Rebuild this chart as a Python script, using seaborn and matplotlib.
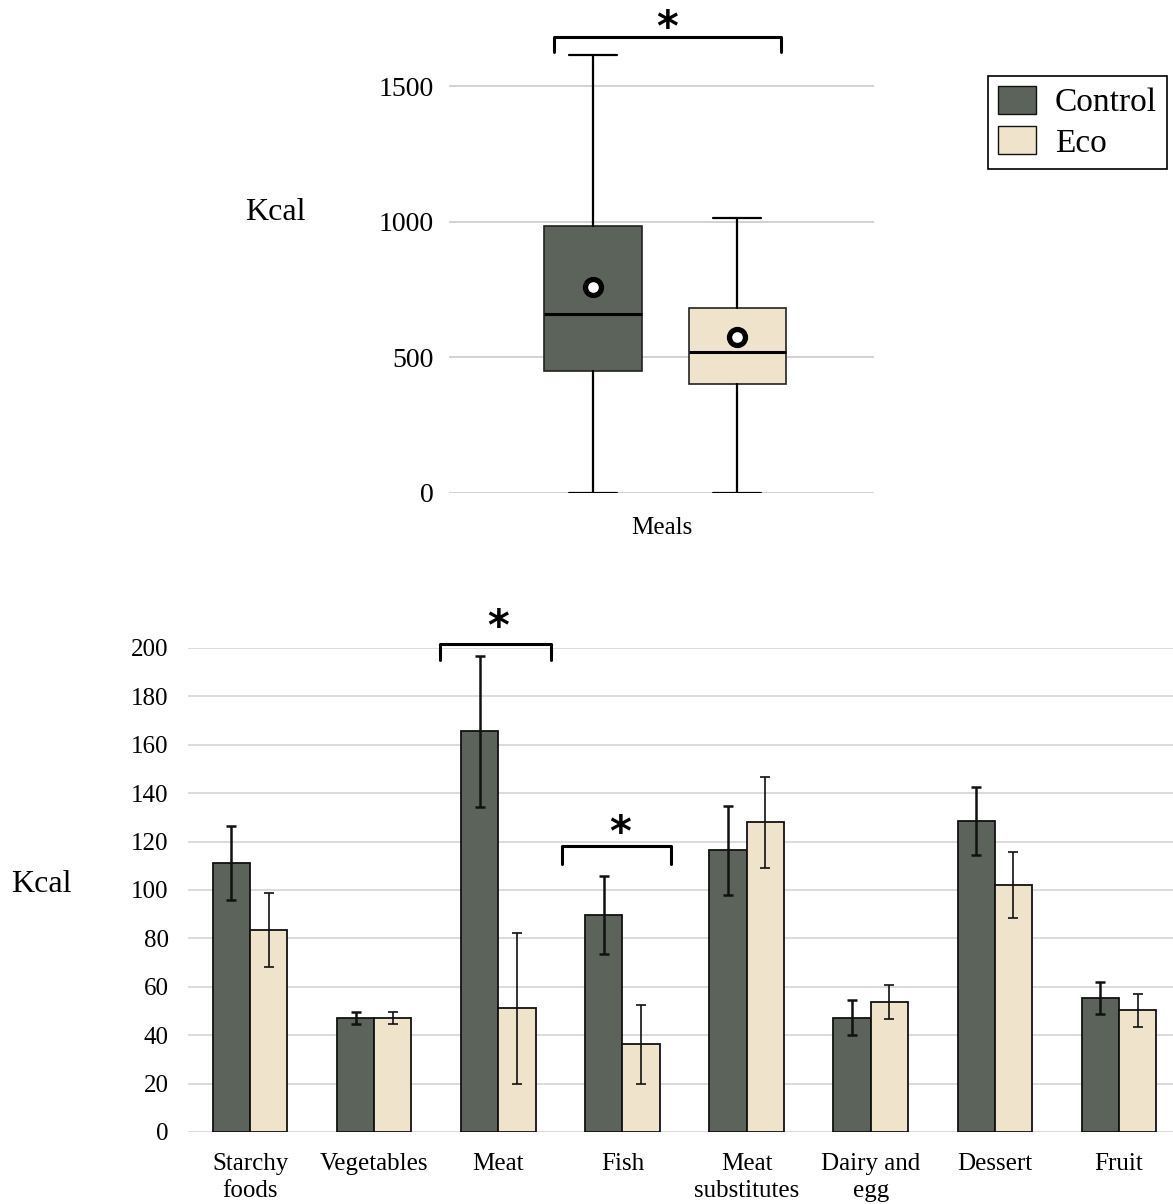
import matplotlib
matplotlib.use("Agg")
import matplotlib.pyplot as plt
from matplotlib.patches import Patch
import seaborn as sns
import pandas as pd

# ---------------- data ----------------
groups = ["Control", "Eco"]
colors = ["#5b635b", "#efe3cc"]

# top panel: meals box statistics (kcal)
box_q1 = [450, 402]
box_med = [660, 520]
box_q3 = [984, 682]
box_whislo = [0, 0]
box_whishi = [1614, 1014]
box_mean = [759, 575]
meal_label = "Meals"
top_yticks = [0, 500, 1000, 1500]

# bottom panel: food categories (kcal)
categories = ["Starchy\nfoods", "Vegetables", "Meat", "Fish", "Meat\nsubstitutes",
              "Dairy and\negg", "Dessert", "Fruit"]
control_vals = [111.1, 47.1, 165.5, 89.7, 116.4, 47.3, 128.6, 55.3]
control_err = [15.3, 2.6, 31.2, 16.1, 18.4, 7.1, 14.0, 6.5]
eco_vals = [83.4, 47.1, 51.2, 36.2, 127.9, 53.7, 102.1, 50.3]
eco_err = [15.3, 2.5, 31.2, 16.2, 18.8, 7.2, 13.8, 6.9]
bottom_yticks = list(range(0, 201, 20))

# ---------------- style ----------------
sns.set_theme(style="white")
plt.rcParams["font.family"] = ["Liberation Serif", "DejaVu Serif"]
plt.rcParams["text.color"] = "black"
plt.rcParams["axes.labelcolor"] = "black"
plt.rcParams["xtick.color"] = "black"
plt.rcParams["ytick.color"] = "black"

W, H = 1173, 1204
fig = plt.figure(figsize=(W / 100, H / 100), dpi=100)
grid_col = "#d2d2d2"
star_kw = dict(ha="center", va="bottom", fontsize=30, fontweight="bold",
               family="DejaVu Sans", clip_on=False, color="black")

# ---------------- top panel ----------------
ax1 = fig.add_axes([449 / W, 1 - 493 / H, 425 / W, (493 - 45.3) / H])
stats = []
for i in range(2):
    stats.append(dict(med=box_med[i], q1=box_q1[i], q3=box_q3[i],
                      whislo=box_whislo[i], whishi=box_whishi[i],
                      mean=box_mean[i], fliers=[], label=groups[i]))
bp = ax1.bxp(stats, positions=[0, 1], widths=0.674, capwidths=0.333,
             showmeans=True, patch_artist=True, showfliers=False,
             boxprops=dict(linewidth=1.2, edgecolor="#222222"),
             medianprops=dict(color="black", linewidth=2.2),
             whiskerprops=dict(color="black", linewidth=1.6),
             capprops=dict(color="black", linewidth=1.6),
             meanprops=dict(marker="o", markerfacecolor="white",
                            markeredgecolor="black", markersize=11.5,
                            markeredgewidth=3.8))
for patch, c in zip(bp["boxes"], colors):
    patch.set_facecolor(c)
    patch.set_zorder(2)
for k in ["whiskers", "caps", "medians", "means"]:
    for a in bp[k]:
        a.set_zorder(3)
ax1.set_xlim(-1.0, 1.951)
ax1.set_ylim(0, 1650)
ax1.set_yticks(top_yticks)
ax1.set_yticklabels([str(v) for v in top_yticks], fontsize=20)
ax1.set_xticks([])
ax1.set_xlabel(meal_label, fontsize=18, labelpad=17)
ax1.yaxis.grid(True, color=grid_col, linewidth=1.4)
ax1.set_axisbelow(True)
ax1.tick_params(axis="y", length=0, pad=11, colors="black")
for s in ax1.spines.values():
    s.set_visible(False)
# significance bracket
ax1.plot([-0.27, -0.27, 1.306, 1.306], [1625, 1681, 1681, 1625],
         color="black", linewidth=2.2, clip_on=False)
ax1.text(0.514, 1633, "*", **star_kw)
fig.text(275 / W, 1 - 213 / H, "Kcal", ha="center", va="center", fontsize=23)

# ---------------- bottom panel ----------------
ax2 = fig.add_axes([188 / W, 1 - 1132 / H, (W - 188) / W, (1132 - 648) / H])
df = pd.DataFrame({
    "category": categories * 2,
    "group": [groups[0]] * len(categories) + [groups[1]] * len(categories),
    "kcal": control_vals + eco_vals,
})
sns.barplot(data=df, x="category", y="kcal", hue="group", order=categories,
            hue_order=groups, palette=colors, width=0.6, gap=0,
            errorbar=None, edgecolor="#111111", linewidth=1.3,
            saturation=1, legend=False, ax=ax2)
for cont, vals, errs, lw in zip(ax2.containers, [control_vals, eco_vals],
                                [control_err, eco_err], [1.8, 1.2]):
    xs = [b.get_x() + b.get_width() / 2 for b in cont]
    ax2.errorbar(xs, vals, yerr=errs, fmt="none", ecolor="#111111",
                 elinewidth=lw, capsize=3.5, capthick=lw, zorder=4)
ax2.set_xlim(-0.5, 7.435)
ax2.set_ylim(0, 200)
ax2.set_yticks(bottom_yticks)
ax2.set_yticklabels([str(v) for v in bottom_yticks], fontsize=18)
ax2.set_xticks(range(len(categories)))
ax2.set_xticklabels(categories, fontsize=18, linespacing=1.3)
ax2.set_xlabel("")
ax2.set_ylabel("")
ax2.yaxis.grid(True, color="#dcdcdc", linewidth=1.4)
ax2.set_axisbelow(True)
ax2.tick_params(axis="y", length=0, pad=14, colors="black")
ax2.tick_params(axis="x", length=0, pad=15, colors="black")
for s in ax2.spines.values():
    s.set_visible(False)
# significance brackets
ax2.plot([2 - 0.468, 2 - 0.468, 2 + 0.427, 2 + 0.427], [195, 201.8, 201.8, 195],
         color="black", linewidth=2.2, clip_on=False)
ax2.text(2.0, 199.6, "*", **star_kw)
ax2.plot([3 - 0.484, 3 - 0.484, 3 + 0.387, 3 + 0.387], [110.7, 118, 118, 110.7],
         color="black", linewidth=2.2, clip_on=False)
ax2.text(3 - 0.02, 114.5, "*", **star_kw)
fig.text(41 / W, 1 - 884 / H, "Kcal", ha="center", va="center", fontsize=23)

# ---------------- legend ----------------
handles = [Patch(facecolor=c, edgecolor="#111111", linewidth=1.0) for c in colors]
leg = fig.legend(handles, groups, loc="upper left",
                 bbox_to_anchor=(988 / W, 1 - 76 / H), fontsize=24,
                 frameon=True, fancybox=False, framealpha=1, edgecolor="black",
                 handlelength=1.15, handleheight=0.9, handletextpad=0.55,
                 borderpad=0.3, labelspacing=0.24, borderaxespad=0)
leg.get_frame().set_linewidth(1.2)

fig.savefig("out.png", dpi=100)
